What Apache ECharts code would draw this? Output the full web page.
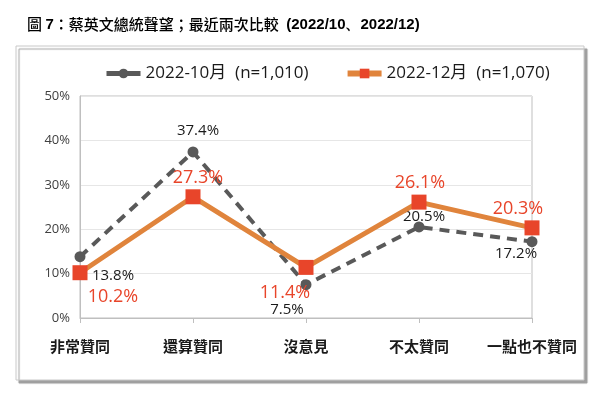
<!DOCTYPE html>
<html>
<head>
<meta charset="utf-8">
<script src="https://cdn.jsdelivr.net/npm/echarts@6/dist/echarts.min.js"></script>
<style>
html,body{margin:0;padding:0;background:#fff;}
#chart{width:600px;height:402px;}
</style>
</head>
<body>
<div id="chart"></div>
<script>
var categories = ['非常贊同', '還算贊同', '沒意見', '不太贊同', '一點也不贊同'];
var seriesOctName = '2022-10月  (n=1,010)';
var seriesDecName = '2022-12月  (n=1,070)';
var valuesOct = [13.8, 37.4, 7.5, 20.5, 17.2];
var valuesDec = [10.2, 27.3, 11.4, 26.1, 20.3];
var yTicks = [0, 10, 20, 30, 40, 50];

// label placement (style only)
var offOct = [[33, 19], [5, -21], [-19, 25], [5, -10], [-16, 12]];
var offDec = [[33, 24], [5, -19], [-21, 25], [1, -19], [-14, -19]];

var FONT = '"Open Sans", "Noto Sans CJK TC", sans-serif';

function build(vals, offs) {
  return vals.map(function (v, i) {
    return { value: v, label: { offset: offs[i] } };
  });
}

var chart = echarts.init(document.getElementById('chart'), null, { renderer: 'canvas' });
chart.setOption({
  animation: false,
  backgroundColor: '#fff',
  textStyle: { fontFamily: FONT },
  title: {
    left: 22, top: 12,
    text: '{a|圖 }{b|7}{a|：蔡英文總統聲望；最近兩次比較 }{b| (2022/10、2022/12)}',
    textStyle: {
      rich: {
        a: { fontSize: 15, fontFamily: '"Noto Sans CJK TC"', fontWeight: 500, color: '#000' },
        b: { fontSize: 15, fontFamily: '"Liberation Sans", Arial', fontWeight: 'bold', color: '#000' }
      }
    }
  },
  graphic: [{
    type: 'rect', z: -10,
    shape: { x: 16, y: 46, width: 568, height: 334 },
    style: { fill: '#fff', stroke: '#c8c8c8', lineWidth: 1, shadowColor: '#a0a0a0', shadowOffsetX: 3, shadowOffsetY: 3, shadowBlur: 1 }
  }],
  legend: {
    top: 60, left: 99,
    itemWidth: 34, itemHeight: 12, itemGap: 36,
    textStyle: { fontSize: 17, color: '#1a1a1a', fontFamily: FONT },
    data: [
      { name: seriesOctName, lineStyle: { width: 5, type: 'solid' } },
      { name: seriesDecName, lineStyle: { width: 6, type: 'solid' } }
    ]
  },
  grid: { left: 80, right: 68, top: 96, bottom: 84, show: true, borderColor: '#bfbfbf', borderWidth: 1 },
  xAxis: {
    type: 'category', data: categories, boundaryGap: false,
    axisLine: { lineStyle: { color: '#bfbfbf' } },
    axisTick: { show: true, length: 5, interval: 0, lineStyle: { color: '#bfbfbf' } },
    axisLabel: { interval: 0, fontSize: 15, color: '#1a1a1a', margin: 21, fontFamily: '"Noto Sans CJK TC"', fontWeight: 'bold' }
  },
  yAxis: {
    type: 'value', min: yTicks[0], max: yTicks[yTicks.length - 1], interval: 10,
    axisLine: { show: true, lineStyle: { color: '#bfbfbf' } },
    axisTick: { show: false },
    splitLine: { lineStyle: { color: '#e6e6e6' } },
    axisLabel: { formatter: '{value}%', fontSize: 13, color: '#404040', margin: 10 }
  },
  series: [{
    name: seriesOctName, type: 'line', data: build(valuesOct, offOct),
    z: 2,
    lineStyle: { color: '#595959', width: 4, type: [10, 7] },
    itemStyle: { color: '#595959' },
    symbol: 'circle', symbolSize: 11,
    label: { show: true, position: 'inside', formatter: '{c}%', fontSize: 15, color: '#1a1a1a', fontFamily: FONT }
  }, {
    name: seriesDecName, type: 'line', data: build(valuesDec, offDec),
    z: 3,
    lineStyle: { color: '#E0843C', width: 5 },
    itemStyle: { color: '#E8452A' },
    symbol: 'rect', symbolSize: 15,
    label: { show: true, position: 'inside', formatter: '{c}%', fontSize: 18, color: '#E8452A', fontFamily: FONT }
  }]
});
</script>
</body>
</html>
